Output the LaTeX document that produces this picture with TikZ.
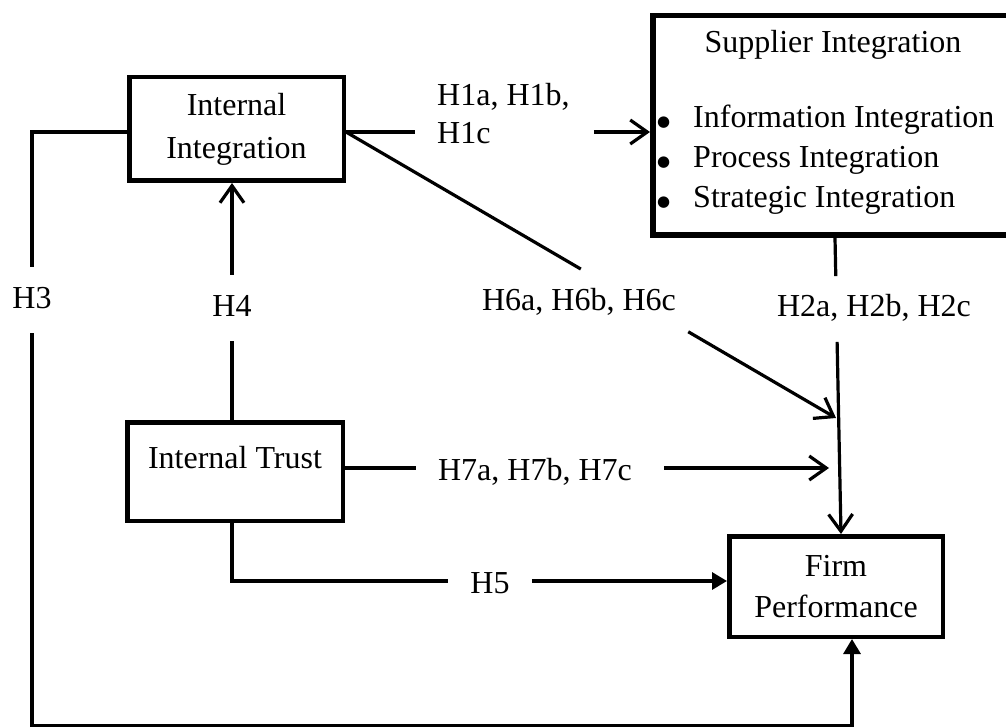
\documentclass[tikz,border=0pt]{standalone}
\usepackage{fontspec}
\setmainfont{Liberation Serif}
\newfontfamily\dejavu{DejaVu Sans}
\usetikzlibrary{arrows.meta}
\newcommand{\bigbul}{\makebox[36pt][l]{\raisebox{1.5pt}{\dejavu\fontsize{15}{15}\selectfont ●}}}
\begin{document}
\begin{tikzpicture}[x=1pt,y=-1pt,
  box/.style={draw, rectangle, line width=4.5pt, inner sep=0pt},
  conn/.style={line width=3.2pt},
  openarrow/.style={conn, -{Straight Barb[length=17pt,width=24pt]}},
  filledarrow/.style={conn, -{Triangle[length=15pt,width=17pt]}},
  lbl/.style={font=\fontsize{32}{38}\selectfont, inner sep=0pt, text height=22pt, text depth=7pt, anchor=base},
]
\useasboundingbox (0,0) rectangle (1006,727);
\clip (0,0) rectangle (1006,727);

% boxes
\node[box, align=center, minimum width=214.5pt, minimum height=103.5pt, font=\fontsize{32}{43}\selectfont] (II) at (236.5,129) {Internal\\Integration};
\node[box, minimum width=215.5pt, minimum height=98.5pt, font=\fontsize{32}{40}\selectfont, text height=22pt, text depth=29pt] (IT) at (235,471.5) {Internal Trust};
\node[box, align=center, minimum width=213.5pt, minimum height=100.5pt, font=\fontsize{32}{41}\selectfont] (FP) at (836,586.5) {Firm\\Performance};
\node[box, line width=5.5pt, minimum width=360.5pt, minimum height=219.5pt] (SI) at (833,125.5) {};
\node[lbl] (SIt) at (833,53) {Supplier Integration};
\node[anchor=north west, inner sep=0pt, align=left, font=\fontsize{32}{40}\selectfont] (SIl) at (657,105) {\bigbul Information Integration\\\bigbul Process Integration\\\bigbul Strategic Integration};

% helper coordinates
\coordinate (h1y) at (0,132);
\coordinate (h6end) at (836,418);
\coordinate (h7end) at (829,468);
\coordinate (h3b) at (852,726);
\coordinate (h5y) at (0,581);

% labels
\node[anchor=north west, inner sep=0pt, align=left, font=\fontsize{32}{38}\selectfont] (h1) at (437,83) {H1a, H1b,\\H1c};
\node[lbl] (h2) at (874,316) {H2a, H2b, H2c};
\node[lbl] (h3) at (32,308) {H3};
\node[lbl] (h4) at (232,316) {H4};
\node[lbl] (h5) at (490,593) {H5};
\node[lbl] (h6) at (579,310) {H6a, H6b, H6c};
\node[lbl] (h7) at (535,480) {H7a, H7b, H7c};

% H1
\draw[conn, shorten >=22pt] (II.east |- h1y) -- (h1.west |- h1y);
\draw[openarrow, shorten <=24pt] (h1.east |- h1y) -- (SI.west |- h1y);
% H2
\draw[conn, shorten >=258pt] ([xshift=2pt]SI.south) -- ([xshift=5pt]FP.north);
\draw[openarrow, shorten <=104pt] ([xshift=2pt]SI.south) -- ([xshift=5pt]FP.north);
% H3
\draw[conn, shorten >=19pt] (II.west |- h1y) -| (h3.north);
\draw[filledarrow, shorten <=18pt] (h3.south) |- (h3b) -- (FP.south -| h3b);
% H4
\draw[conn, shorten >=18pt] (IT.north -| h4) -- (h4.south);
\draw[openarrow, shorten <=19pt] (h4.north) -- (II.south -| h4);
% H5
\draw[conn, shorten >=22pt] (IT.south -| h4) |- (h5.west |- h5y);
\draw[filledarrow, shorten <=22pt] (h5.east |- h5y) -- (FP.west |- h5y);
% H6
\draw[conn, shorten >=295.5pt] (II.east |- h1y) -- (h6end);
\draw[openarrow, shorten <=396.3pt] (II.east |- h1y) -- (h6end);
% H7
\draw[conn, shorten >=22pt] (IT.base east) -- (h7.west |- IT.base east);
\draw[openarrow, shorten <=32pt] (h7.east |- IT.base east) -- (h7end);
\end{tikzpicture}
\end{document}
